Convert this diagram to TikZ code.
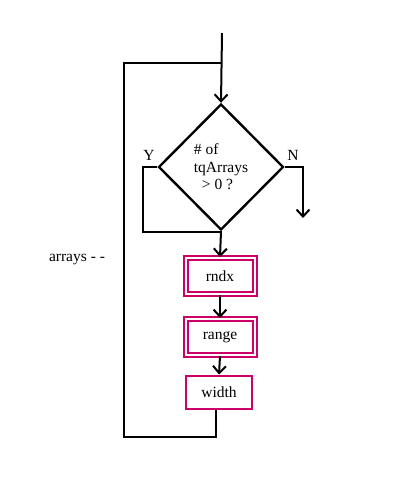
\documentclass[tikz,border=0pt]{standalone}
\usepackage{fontspec}
\setmainfont{Liberation Serif}
\usetikzlibrary{shapes.geometric,arrows.meta}
\definecolor{boxpink}{RGB}{204,0,102}

\begin{document}
\begin{tikzpicture}[x=1pt,y=-1pt,
	font=\fontsize{15.5}{17.5}\selectfont,
	line width=2pt,
	arr/.style={-{Straight Barb[length=7pt,width=13pt,line width=2pt]}},
	dbox/.style={draw=boxpink, double=white, double distance=2pt, line width=2pt,
		minimum width=69pt, minimum height=36pt, inner sep=0pt},
	sbox/.style={draw=boxpink, line width=2pt, minimum width=66pt, minimum height=33pt, inner sep=0pt}]
	\useasboundingbox (0,0) rectangle (400,500);

	\coordinate (in) at (222,33);
	\node[diamond, draw, line width=2.4pt, minimum width=125pt, minimum height=126pt,
		inner sep=0pt, align=left] (test) at (221,167) {\# of\\tqArrays\\\hspace{8pt}> 0 ?};

	% boxes
	\node[dbox] (rndx) at (220,276) {rndx};
	\node[dbox] (range) at (220,337) {range};
	\node[sbox] (width) at (219,392) {width};

	% labels
	\node (Y) at (149,155) {Y};
	\node (N) at (293,155) {N};
	\node (cnt) at (77,260) {arrays - -};

	% corners
	\coordinate (join) at (222,63);
	\coordinate (looptop) at (124,63);
	\coordinate (loopbot) at (124,437);
	\coordinate (ybend) at (143,232);
	\coordinate (nout) at (303,218);

	% main flow
	\draw[arr] (in) -- (test.north);
	\draw[arr] (test.south) -- (rndx.north);
	\draw[arr] (rndx.south) -- (range.north);
	\draw[arr] (range.south) -- (width.north);

	% branches
	\draw (test.west) -| (ybend) -- (ybend -| test.south);
	\draw[arr] (test.east) -| (nout);

	% loop back
	\draw ([xshift=-3pt]width.south) |- (loopbot) -- (looptop) -- (join);
\end{tikzpicture}
\end{document}
